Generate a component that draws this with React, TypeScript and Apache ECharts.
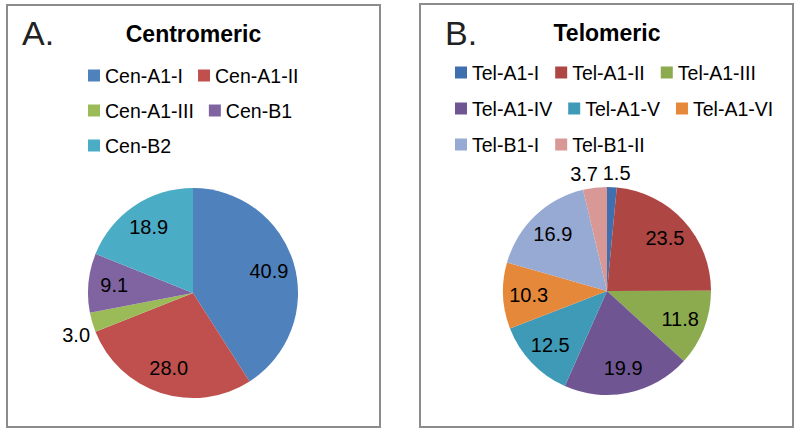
import React, { useEffect, useRef } from "react";
import * as echarts from "echarts";

const cenNames = ["Cen-A1-I", "Cen-A1-II", "Cen-A1-III", "Cen-B1", "Cen-B2"];
const cenValues = [40.9, 28.0, 3.0, 9.1, 18.9];
const cenColors = ["#4F81BD", "#C0504D", "#9BBB59", "#8064A2", "#4BACC6"];
const cenOutside = ["Cen-A1-III"];
const cenOutsideOffsets: Record<string, number[]> = {
  "Cen-A1-III": [5, 6],
};

const telNames = [
  "Tel-A1-I",
  "Tel-A1-II",
  "Tel-A1-III",
  "Tel-A1-IV",
  "Tel-A1-V",
  "Tel-A1-VI",
  "Tel-B1-I",
  "Tel-B1-II",
];
const telValues = [1.5, 23.5, 11.8, 19.9, 12.5, 10.3, 16.9, 3.7];
const telColors = [
  "#3F6FAE",
  "#AE4643",
  "#8CAA4E",
  "#6F5693",
  "#3E9AB6",
  "#E6883A",
  "#97AAD4",
  "#D89896",
];
const telOutside = ["Tel-A1-I", "Tel-B1-II"];
const telOutsideOffsets: Record<string, number[]> = {
  "Tel-A1-I": [4, 2],
  "Tel-B1-II": [-9, 2],
};

const FONT = "Liberation Sans";
const fmt = (p: any) => Number(p.value).toFixed(1);

function pieSeries(
  names: string[],
  values: number[],
  colors: string[],
  outside: string[],
  center: number[],
  r: number,
  outerRing: number,
  offsets: Record<string, number[]> = {}
) {
  const labelStyle = {
    show: true,
    position: "inside",
    formatter: fmt,
    fontFamily: FONT,
    fontSize: 20,
    color: "#000",
  };
  const main = {
    type: "pie",
    silent: true,
    center,
    radius: [0, r],
    startAngle: 90,
    clockwise: true,
    avoidLabelOverlap: false,
    label: { show: false },
    labelLine: { show: false },
    itemStyle: { borderWidth: 0 },
    emphasis: { disabled: true },
    data: names.map((n, i) => ({
      name: n,
      value: values[i],
      itemStyle: { color: colors[i], borderWidth: 0 },
    })),
  };
  const inner = {
    type: "pie",
    silent: true,
    center,
    radius: [r * 0.45, r],
    startAngle: 90,
    clockwise: true,
    avoidLabelOverlap: false,
    labelLine: { show: false },
    emphasis: { disabled: true },
    itemStyle: { color: "transparent", borderWidth: 0 },
    label: labelStyle,
    data: names.map((n, i) => ({
      name: n,
      value: values[i],
      label: { show: !outside.includes(n) },
    })),
  };
  const outer = {
    type: "pie",
    silent: true,
    center,
    radius: [r, r + outerRing],
    startAngle: 90,
    clockwise: true,
    avoidLabelOverlap: false,
    labelLine: { show: false },
    emphasis: { disabled: true },
    itemStyle: { color: "transparent", borderWidth: 0 },
    label: labelStyle,
    data: names.map((n, i) => ({
      name: n,
      value: values[i],
      label: {
        show: outside.includes(n),
        offset: offsets[n] || [0, 0],
      },
    })),
  };
  return [main, inner, outer];
}

function legend(
  names: string[],
  left: number,
  top: number,
  width: number,
  gap: number
) {
  return {
    show: true,
    left,
    top,
    width,
    padding: 0,
    itemGap: gap,
    itemWidth: 12,
    itemHeight: 12,
    icon: "rect",
    selectedMode: false,
    data: names,
    textStyle: { fontFamily: FONT, fontSize: 19.5, color: "#000" },
  };
}

export default function App() {
  const ref = useRef<HTMLDivElement>(null);
  useEffect(() => {
    document.body.style.margin = "0";
    if (!ref.current) return;
    const chart = echarts.init(ref.current, undefined, { renderer: "svg" });
    const option = {
      animation: false,
      backgroundColor: "#fff",
      legend: [
        legend(cenNames, 88, 65.5, 230, 15),
        legend(telNames, 455, 62.5, 330, 16),
      ],
      series: [
        ...pieSeries(
          cenNames,
          cenValues,
          cenColors,
          cenOutside,
          [193, 293],
          105,
          38,
          cenOutsideOffsets
        ),
        ...pieSeries(
          telNames,
          telValues,
          telColors,
          telOutside,
          [607, 291],
          104,
          26,
          telOutsideOffsets
        ),
      ],
      graphic: [
        {
          type: "rect",
          shape: { x: 7, y: 5, width: 373, height: 422 },
          style: { fill: "none", stroke: "#8c8c8c", lineWidth: 2 },
          silent: true,
        },
        {
          type: "rect",
          shape: { x: 420, y: 4, width: 373, height: 423 },
          style: { fill: "none", stroke: "#8c8c8c", lineWidth: 2 },
          silent: true,
        },
        {
          type: "text",
          style: {
            x: 22,
            y: 33,
            text: "A.",
            fontFamily: FONT,
            fontSize: 34,
            fill: "#222",
            textAlign: "left",
            textVerticalAlign: "middle",
          },
        },
        {
          type: "text",
          style: {
            x: 445,
            y: 33,
            text: "B.",
            fontFamily: FONT,
            fontSize: 34,
            fill: "#222",
            textAlign: "left",
            textVerticalAlign: "middle",
          },
        },
        {
          type: "text",
          style: {
            x: 193.5,
            y: 33.5,
            text: "Centromeric",
            fontFamily: FONT,
            fontSize: 23,
            fontWeight: "bold",
            fill: "#000",
            textAlign: "center",
            textVerticalAlign: "middle",
          },
        },
        {
          type: "text",
          style: {
            x: 607,
            y: 33,
            text: "Telomeric",
            fontFamily: FONT,
            fontSize: 23,
            fontWeight: "bold",
            fill: "#000",
            textAlign: "center",
            textVerticalAlign: "middle",
          },
        },
      ],
    };
    chart.setOption(option as any);
    return () => chart.dispose();
  }, []);
  return <div ref={ref} style={{ width: 800, height: 432 }} />;
}
